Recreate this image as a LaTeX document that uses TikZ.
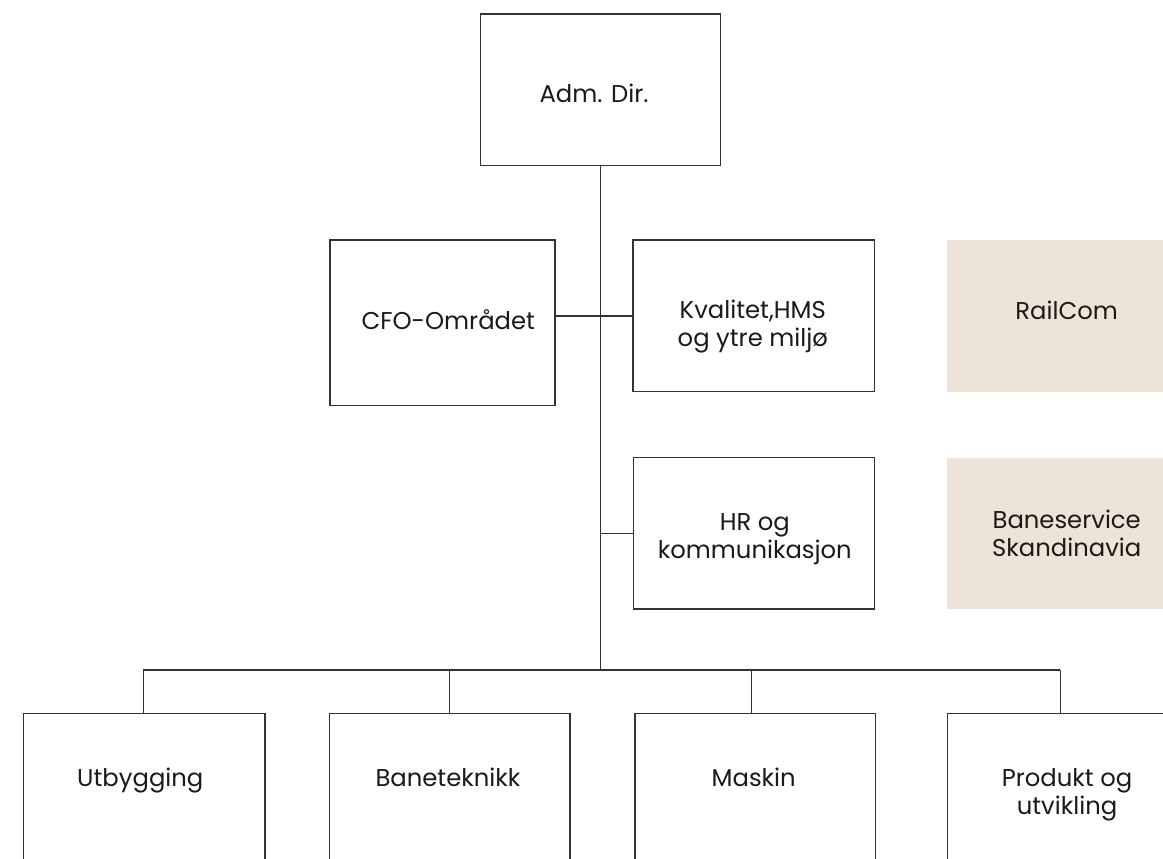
\documentclass[tikz,border=0pt]{standalone}
\usepackage{fontspec}
\setmainfont{Poppins}
\definecolor{beige}{HTML}{EDE4D8}
\definecolor{ln}{HTML}{333333}
\definecolor{tx}{HTML}{1A1A1A}
\tikzset{
  orgbox/.style={draw=ln, line width=1.3pt, rectangle, inner sep=0pt, outer sep=0pt, anchor=north west, fill=white},
  sidebox/.style={draw=none, fill=beige, rectangle, inner sep=0pt, outer sep=0pt, anchor=north west},
  lbl/.style={anchor=base, inner sep=0pt, text=tx, font=\fontsize{24.3}{28}\selectfont},
  conn/.style={draw=ln, line width=1.3pt}
}
\newcommand{\twol}[2]{\begin{tabular}[t]{@{}c@{}}#1\\#2\end{tabular}}
\begin{document}
\begin{tikzpicture}[x=1pt,y=-1pt]
\useasboundingbox (0,0) rectangle (1163,859);
\clip (0,0) rectangle (1163,859);
% boxes
\node[orgbox, minimum width=240pt, minimum height=151.5pt] (adm) at (480.5,14) {};
\node[orgbox, minimum width=225pt, minimum height=165.7pt] (cfo) at (330,240) {};
\node[orgbox, minimum width=241.7pt, minimum height=151.7pt] (kval) at (633,240) {};
\node[orgbox, minimum width=241.4pt, minimum height=151.7pt] (hr) at (633.3,457.3) {};
\node[sidebox, minimum width=241pt, minimum height=151.7pt] (rail) at (946.7,240) {};
\node[sidebox, minimum width=241pt, minimum height=151.5pt] (bsk) at (946.7,457.5) {};
\node[orgbox, minimum width=241.7pt, minimum height=180pt] (utb) at (23.3,713.3) {};
\node[orgbox, minimum width=240.7pt, minimum height=180pt] (bane) at (329.3,713.3) {};
\node[orgbox, minimum width=240.3pt, minimum height=180pt] (mask) at (635,713.3) {};
\node[orgbox, minimum width=241pt, minimum height=180pt] (prod) at (947.3,713.3) {};
% labels
\node[lbl] (admt) at (594,102.7) {Adm. Dir.};
\node[lbl] (cfot) at (448.3,329.3) {CFO-Området};
\node[lbl] (kvalt) at (752.8,318.3) {\twol{Kvalitet,HMS}{og ytre miljø}};
\node[lbl] (hrt) at (754.8,530) {\twol{HR og}{kommunikasjon}};
\node[lbl] (railt) at (1066.7,319.3) {RailCom};
\node[lbl] (bskt) at (1066.7,528.3) {\twol{Baneservice}{Skandinavia}};
\node[lbl] (utbt) at (140.3,786.7) {Utbygging};
\node[lbl] (banet) at (448,786.7) {Baneteknikk};
\node[lbl] (maskt) at (753.7,786.7) {Maskin};
\node[lbl] (prodt) at (1067,786.7) {\twol{Produkt og}{utvikling}};
% connector coordinates
\coordinate (j) at (600.5,670);
\coordinate (c1) at (143.3,670);
\coordinate (c2) at (449.7,670);
\coordinate (c3) at (751.3,670);
\coordinate (c4) at (1060.3,670);
% connectors
\draw[conn] (adm.south) -- (j);
\draw[conn] (kval.west) -- (kval.west -| cfo.east);
\draw[conn] (hr.west) -- (hr.west -| j);
\draw[conn] (c1) -- (c4);
\draw[conn] (c1) -- (c1 |- utb.north);
\draw[conn] (c2) -- (c2 |- bane.north);
\draw[conn] (c3) -- (c3 |- mask.north);
\draw[conn] (c4) -- (c4 |- prod.north);
\end{tikzpicture}
\end{document}
